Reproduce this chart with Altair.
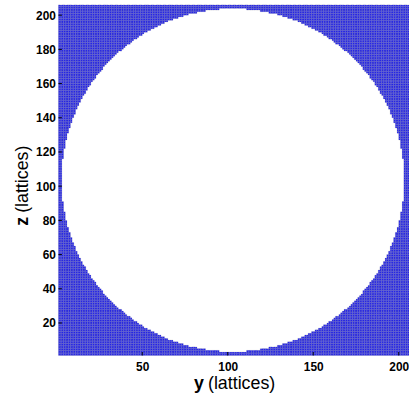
import altair as alt
import numpy as np
import pandas as pd

# lattice extent (cells indexed 1..205 along y and z)
n_cells = 205
lattice_min = 1
# white circular region
circle_center_y = 103.0
circle_center_z = 103.5
circle_radius = 100.3

x_ticks = [50, 100, 150, 200]
z_ticks = [20, 40, 60, 80, 100, 120, 140, 160, 180, 200]

idx = np.arange(lattice_min, lattice_min + n_cells)
Y, Z = np.meshgrid(idx, idx)
Y = Y.ravel(); Z = Z.ravel()
outside = (Y + 0.5 - circle_center_y) ** 2 + (Z + 0.5 - circle_center_z) ** 2 > circle_radius ** 2
cells = pd.DataFrame({"y0": Y[outside], "y1": Y[outside] + 1, "z0": Z[outside], "z1": Z[outside] + 1})

dom = [lattice_min, lattice_min + n_cells]
W = 354
H = 354
FONT = "Liberation Sans"

xs = alt.Scale(domain=dom, nice=False, zero=False)
ys = alt.Scale(domain=dom, nice=False, zero=False)

x_axis = alt.Axis(values=x_ticks, title=None, ticks=False, tickSize=0, labelPadding=6,
                  labelFont=FONT, labelFontSize=12, labelFontWeight="bold", labelColor="#000",
                  domain=False, grid=False, labelOverlap=False)
z_axis = alt.Axis(values=z_ticks, title=None, ticks=False, tickSize=0, labelPadding=3,
                  labelFont=FONT, labelFontSize=12, labelFontWeight="bold", labelColor="#000",
                  domain=False, grid=False, labelOverlap=False)

rects = alt.Chart(cells).mark_rect(
    fill="#1818f5", stroke="#8c8c8c", strokeWidth=0.2
).encode(
    x=alt.X("y0:Q", scale=xs, axis=x_axis),
    x2="y1:Q",
    y=alt.Y("z0:Q", scale=ys, axis=z_axis),
    y2="z1:Q",
)

xt = alt.Chart(pd.DataFrame({"v": x_ticks})).mark_rule(color="#000", strokeWidth=1).encode(
    x=alt.X("v:Q", scale=xs, axis=x_axis), y=alt.value(H), y2=alt.value(H - 3.5)
)
zt = alt.Chart(pd.DataFrame({"v": z_ticks})).mark_rule(color="#000", strokeWidth=1).encode(
    y=alt.Y("v:Q", scale=ys, axis=z_axis), x=alt.value(0), x2=alt.value(3.5)
)

t_y_bold = alt.Chart(pd.DataFrame({"t": ["y"]})).mark_text(
    font=FONT, fontSize=18, fontWeight="bold", align="right", baseline="alphabetic", color="#000"
).encode(text="t:N", x=alt.value(147), y=alt.value(388))
t_y_rest = alt.Chart(pd.DataFrame({"t": ["(lattices)"]})).mark_text(
    font=FONT, fontSize=18, align="left", baseline="alphabetic", color="#000"
).encode(text="t:N", x=alt.value(151), y=alt.value(388))
t_z_bold = alt.Chart(pd.DataFrame({"t": ["z"]})).mark_text(
    font=FONT, fontSize=18, fontWeight="bold", align="right", baseline="alphabetic", angle=270, color="#000"
).encode(text="t:N", x=alt.value(-31), y=alt.value(214))
t_z_rest = alt.Chart(pd.DataFrame({"t": ["(lattices)"]})).mark_text(
    font=FONT, fontSize=18, align="left", baseline="alphabetic", angle=270, color="#000"
).encode(text="t:N", x=alt.value(-31), y=alt.value(210))

chart = alt.layer(rects, xt, zt, t_y_bold, t_y_rest, t_z_bold, t_z_rest).properties(
    width=W, height=H,
    autosize=alt.AutoSizeParams(type="none"),
    padding={"left": 59, "top": 3, "right": 0, "bottom": 43},
    background="white",
).configure_view(stroke=None)

chart.save("out.html", embed_options={"renderer": "svg", "actions": False})
